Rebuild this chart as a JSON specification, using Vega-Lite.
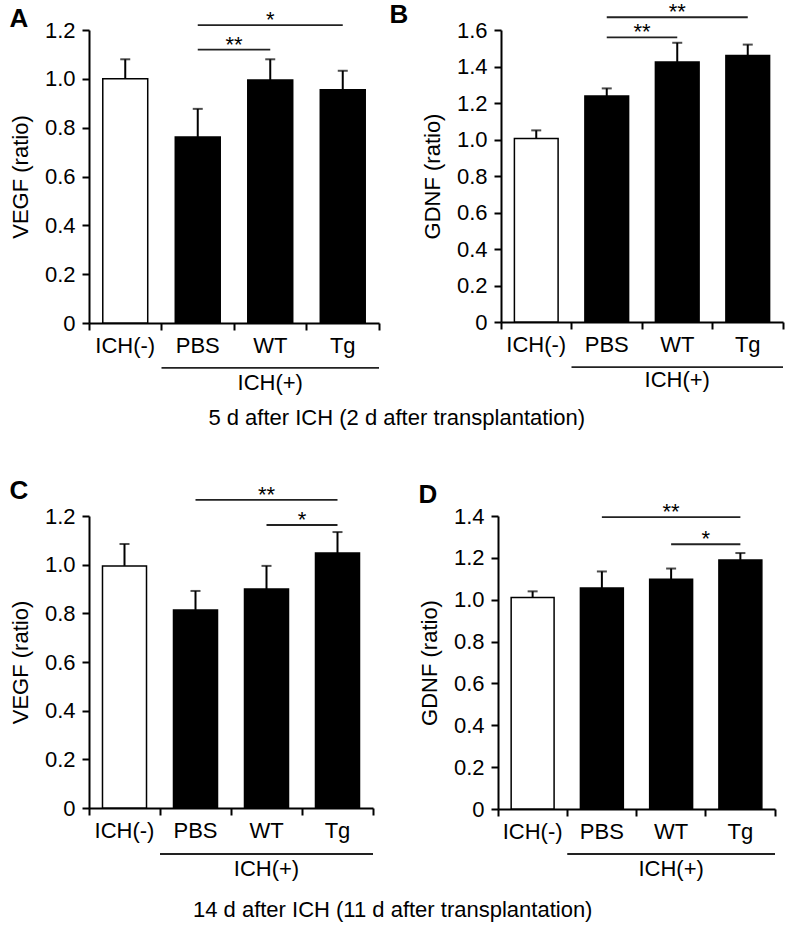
{
  "$schema": "https://vega.github.io/schema/vega-lite/v6.json",
  "background": "white",
  "padding": {"left": 9, "top": 1, "right": 3, "bottom": 4},
  "spacing": 47,
  "config": {
    "font": "Liberation Sans",
    "view": {"stroke": null},
    "axis": {
      "domainColor": "black", "domainWidth": 2, "tickColor": "black", "tickWidth": 2, "tickSize": 7,
      "labelColor": "black", "labelFontSize": 22, "titleFontSize": 22, "titleFontWeight": "normal",
      "titleColor": "black", "grid": false
    },
    "title": {"color": "black"}
  },
  "datasets": {
    "bars": [
      {"panel": "A", "g": "ICH(-)", "mean": 1.0, "top": 1.08},
      {"panel": "A", "g": "PBS", "mean": 0.762, "top": 0.877},
      {"panel": "A", "g": "WT", "mean": 0.995, "top": 1.08},
      {"panel": "A", "g": "Tg", "mean": 0.955, "top": 1.033},
      {"panel": "B", "g": "ICH(-)", "mean": 1.005, "top": 1.05},
      {"panel": "B", "g": "PBS", "mean": 1.238, "top": 1.28},
      {"panel": "B", "g": "WT", "mean": 1.425, "top": 1.53},
      {"panel": "B", "g": "Tg", "mean": 1.46, "top": 1.52},
      {"panel": "C", "g": "ICH(-)", "mean": 0.995, "top": 1.085},
      {"panel": "C", "g": "PBS", "mean": 0.814, "top": 0.892},
      {"panel": "C", "g": "WT", "mean": 0.9, "top": 0.995},
      {"panel": "C", "g": "Tg", "mean": 1.048, "top": 1.134},
      {"panel": "D", "g": "ICH(-)", "mean": 1.01, "top": 1.04},
      {"panel": "D", "g": "PBS", "mean": 1.056, "top": 1.135},
      {"panel": "D", "g": "WT", "mean": 1.098, "top": 1.149},
      {"panel": "D", "g": "Tg", "mean": 1.19, "top": 1.223}
    ],
    "sig": [
      {"panel": "A", "from": "PBS", "to": "WT", "y": 1.12, "label": "**", "at": "PBS", "pos": "end"},
      {"panel": "A", "from": "PBS", "to": "Tg", "y": 1.22, "label": "*", "at": "WT", "pos": "mid"},
      {"panel": "B", "from": "PBS", "to": "WT", "y": 1.56, "label": "**", "at": "PBS", "pos": "end"},
      {"panel": "B", "from": "PBS", "to": "Tg", "y": 1.67, "label": "**", "at": "WT", "pos": "mid"},
      {"panel": "C", "from": "PBS", "to": "Tg", "y": 1.266, "label": "**", "at": "WT", "pos": "mid"},
      {"panel": "C", "from": "WT", "to": "Tg", "y": 1.163, "label": "*", "at": "WT", "pos": "end"},
      {"panel": "D", "from": "PBS", "to": "Tg", "y": 1.395, "label": "**", "at": "WT", "pos": "mid"},
      {"panel": "D", "from": "WT", "to": "Tg", "y": 1.265, "label": "*", "at": "WT", "pos": "end"}
    ],
    "grp": [
      {"panel": "A", "from": "PBS", "to": "Tg", "at": "WT", "y": -0.184, "ty": -0.246, "label": "ICH(+)"},
      {"panel": "B", "from": "PBS", "to": "Tg", "at": "WT", "y": -0.247, "ty": -0.318, "label": "ICH(+)"},
      {"panel": "C", "from": "PBS", "to": "Tg", "at": "WT", "y": -0.189, "ty": -0.251, "label": "ICH(+)"},
      {"panel": "D", "from": "PBS", "to": "Tg", "at": "WT", "y": -0.215, "ty": -0.287, "label": "ICH(+)"}
    ]
  },
  "vconcat": [
    {
      "title": {"text": "5 d after ICH (2 d after transplantation)", "orient": "bottom", "anchor": "middle", "fontSize": 22, "fontWeight": "normal", "offset": 14},
      "spacing": 9,
      "hconcat": [
        {
          "width": 290, "height": 293,
          "title": {"text": "A", "anchor": "start", "fontSize": 26, "fontWeight": "bold", "offset": -23},
          "layer": [
            {"data": {"name": "bars"}, "transform": [{"filter": "datum.panel == 'A'"}],
             "mark": {"type": "bar", "width": {"band": 0.62}, "stroke": "black", "strokeWidth": 1.5},
             "encoding": {
               "x": {"field": "g", "type": "nominal", "scale": {"domain": ["ICH(-)", "PBS", "WT", "Tg"], "paddingInner": 0, "paddingOuter": 0},
                     "axis": {"title": null, "labelAngle": 0, "bandPosition": 1, "tickExtra": true, "labelPadding": 5}},
               "y": {"field": "mean", "type": "quantitative", "scale": {"domain": [0, 1.2], "nice": false},
                     "axis": {"title": "VEGF (ratio)", "values": [0, 0.2, 0.4, 0.6, 0.8, 1.0, 1.2], "tickCount": 20, "labelExpr": "datum.value == 0 ? '0' : format(datum.value, '.1f')", "titlePadding": 12, "labelPadding": 7}},
               "fill": {"condition": {"test": "datum.g == 'ICH(-)'", "value": "white"}, "value": "black"}
             }},
            {"data": {"name": "bars"}, "transform": [{"filter": "datum.panel == 'A'"}],
             "mark": {"type": "rule", "color": "black", "strokeWidth": 2},
             "encoding": {"x": {"field": "g", "type": "nominal"}, "y": {"field": "mean", "type": "quantitative"}, "y2": {"field": "top"}}},
            {"data": {"name": "bars"}, "transform": [{"filter": "datum.panel == 'A'"}],
             "mark": {"type": "tick", "color": "black", "size": 10, "thickness": 2, "orient": "horizontal"},
             "encoding": {"x": {"field": "g", "type": "nominal"}, "y": {"field": "top", "type": "quantitative"}}},
            {"data": {"name": "sig"}, "transform": [{"filter": "datum.panel == 'A'"}],
             "mark": {"type": "rule", "color": "#222", "strokeWidth": 1.8},
             "encoding": {"x": {"field": "from", "type": "nominal"}, "x2": {"field": "to"}, "y": {"field": "y", "type": "quantitative"}}},
            {"data": {"name": "sig"}, "transform": [{"filter": "datum.panel == 'A' && datum.pos == 'mid'"}],
             "mark": {"type": "text", "fontSize": 22, "baseline": "alphabetic", "dy": 2, "color": "black"},
             "encoding": {"x": {"field": "at", "type": "nominal"}, "y": {"field": "y", "type": "quantitative"}, "text": {"field": "label"}}},
            {"data": {"name": "sig"}, "transform": [{"filter": "datum.panel == 'A' && datum.pos == 'end'"}],
             "mark": {"type": "text", "fontSize": 22, "baseline": "alphabetic", "dy": 2, "color": "black"},
             "encoding": {"x": {"field": "at", "type": "nominal", "bandPosition": 1}, "y": {"field": "y", "type": "quantitative"}, "text": {"field": "label"}}},
            {"data": {"name": "grp"}, "transform": [{"filter": "datum.panel == 'A'"}],
             "mark": {"type": "rule", "color": "#222", "strokeWidth": 1.8},
             "encoding": {"x": {"field": "from", "type": "nominal", "bandPosition": 0}, "x2": {"field": "to", "bandPosition": 1}, "y": {"field": "y", "type": "quantitative"}}},
            {"data": {"name": "grp"}, "transform": [{"filter": "datum.panel == 'A'"}],
             "mark": {"type": "text", "fontSize": 22, "baseline": "middle", "color": "black"},
             "encoding": {"x": {"field": "at", "type": "nominal"}, "y": {"field": "ty", "type": "quantitative"}, "text": {"field": "label"}}}
          ]
        },
        {
          "width": 282, "height": 292,
          "title": {"text": "B", "anchor": "start", "fontSize": 26, "fontWeight": "bold", "offset": -27, "dx": -32},
          "layer": [
            {"data": {"name": "bars"}, "transform": [{"filter": "datum.panel == 'B'"}],
             "mark": {"type": "bar", "width": {"band": 0.62}, "stroke": "black", "strokeWidth": 1.5},
             "encoding": {
               "x": {"field": "g", "type": "nominal", "scale": {"domain": ["ICH(-)", "PBS", "WT", "Tg"], "paddingInner": 0, "paddingOuter": 0},
                     "axis": {"title": null, "labelAngle": 0, "bandPosition": 1, "tickExtra": true, "labelPadding": 5}},
               "y": {"field": "mean", "type": "quantitative", "scale": {"domain": [0, 1.6], "nice": false},
                     "axis": {"title": "GDNF (ratio)", "values": [0, 0.2, 0.4, 0.6, 0.8, 1.0, 1.2, 1.4, 1.6], "tickCount": 20, "labelExpr": "datum.value == 0 ? '0' : format(datum.value, '.1f')", "titlePadding": 12, "labelPadding": 7}},
               "fill": {"condition": {"test": "datum.g == 'ICH(-)'", "value": "white"}, "value": "black"}
             }},
            {"data": {"name": "bars"}, "transform": [{"filter": "datum.panel == 'B'"}],
             "mark": {"type": "rule", "color": "black", "strokeWidth": 2},
             "encoding": {"x": {"field": "g", "type": "nominal"}, "y": {"field": "mean", "type": "quantitative"}, "y2": {"field": "top"}}},
            {"data": {"name": "bars"}, "transform": [{"filter": "datum.panel == 'B'"}],
             "mark": {"type": "tick", "color": "black", "size": 10, "thickness": 2, "orient": "horizontal"},
             "encoding": {"x": {"field": "g", "type": "nominal"}, "y": {"field": "top", "type": "quantitative"}}},
            {"data": {"name": "sig"}, "transform": [{"filter": "datum.panel == 'B'"}],
             "mark": {"type": "rule", "color": "#222", "strokeWidth": 1.8},
             "encoding": {"x": {"field": "from", "type": "nominal"}, "x2": {"field": "to"}, "y": {"field": "y", "type": "quantitative"}}},
            {"data": {"name": "sig"}, "transform": [{"filter": "datum.panel == 'B' && datum.pos == 'mid'"}],
             "mark": {"type": "text", "fontSize": 22, "baseline": "alphabetic", "dy": 2, "color": "black"},
             "encoding": {"x": {"field": "at", "type": "nominal"}, "y": {"field": "y", "type": "quantitative"}, "text": {"field": "label"}}},
            {"data": {"name": "sig"}, "transform": [{"filter": "datum.panel == 'B' && datum.pos == 'end'"}],
             "mark": {"type": "text", "fontSize": 22, "baseline": "alphabetic", "dy": 2, "color": "black"},
             "encoding": {"x": {"field": "at", "type": "nominal", "bandPosition": 1}, "y": {"field": "y", "type": "quantitative"}, "text": {"field": "label"}}},
            {"data": {"name": "grp"}, "transform": [{"filter": "datum.panel == 'B'"}],
             "mark": {"type": "rule", "color": "#222", "strokeWidth": 1.8},
             "encoding": {"x": {"field": "from", "type": "nominal", "bandPosition": 0}, "x2": {"field": "to", "bandPosition": 1}, "y": {"field": "y", "type": "quantitative"}}},
            {"data": {"name": "grp"}, "transform": [{"filter": "datum.panel == 'B'"}],
             "mark": {"type": "text", "fontSize": 22, "baseline": "middle", "color": "black"},
             "encoding": {"x": {"field": "at", "type": "nominal"}, "y": {"field": "ty", "type": "quantitative"}, "text": {"field": "label"}}}
          ]
        }
      ]
    },
    {
      "title": {"text": "14 d after ICH (11 d after transplantation)", "orient": "bottom", "anchor": "middle", "fontSize": 22, "fontWeight": "normal", "offset": 20},
      "spacing": 44,
      "columns": 2,
      "align": "none",
      "concat": [
        {
          "width": 284, "height": 292,
          "title": {"text": "C", "anchor": "start", "fontSize": 26, "fontWeight": "bold", "offset": -20},
          "layer": [
            {"data": {"name": "bars"}, "transform": [{"filter": "datum.panel == 'C'"}],
             "mark": {"type": "bar", "width": {"band": 0.62}, "stroke": "black", "strokeWidth": 1.5},
             "encoding": {
               "x": {"field": "g", "type": "nominal", "scale": {"domain": ["ICH(-)", "PBS", "WT", "Tg"], "paddingInner": 0, "paddingOuter": 0},
                     "axis": {"title": null, "labelAngle": 0, "bandPosition": 1, "tickExtra": true, "labelPadding": 5}},
               "y": {"field": "mean", "type": "quantitative", "scale": {"domain": [0, 1.2], "nice": false},
                     "axis": {"title": "VEGF (ratio)", "values": [0, 0.2, 0.4, 0.6, 0.8, 1.0, 1.2], "tickCount": 20, "labelExpr": "datum.value == 0 ? '0' : format(datum.value, '.1f')", "titlePadding": 12, "labelPadding": 7}},
               "fill": {"condition": {"test": "datum.g == 'ICH(-)'", "value": "white"}, "value": "black"}
             }},
            {"data": {"name": "bars"}, "transform": [{"filter": "datum.panel == 'C'"}],
             "mark": {"type": "rule", "color": "black", "strokeWidth": 2},
             "encoding": {"x": {"field": "g", "type": "nominal"}, "y": {"field": "mean", "type": "quantitative"}, "y2": {"field": "top"}}},
            {"data": {"name": "bars"}, "transform": [{"filter": "datum.panel == 'C'"}],
             "mark": {"type": "tick", "color": "black", "size": 10, "thickness": 2, "orient": "horizontal"},
             "encoding": {"x": {"field": "g", "type": "nominal"}, "y": {"field": "top", "type": "quantitative"}}},
            {"data": {"name": "sig"}, "transform": [{"filter": "datum.panel == 'C'"}],
             "mark": {"type": "rule", "color": "#222", "strokeWidth": 1.8},
             "encoding": {"x": {"field": "from", "type": "nominal"}, "x2": {"field": "to"}, "y": {"field": "y", "type": "quantitative"}}},
            {"data": {"name": "sig"}, "transform": [{"filter": "datum.panel == 'C' && datum.pos == 'mid'"}],
             "mark": {"type": "text", "fontSize": 22, "baseline": "alphabetic", "dy": 2, "color": "black"},
             "encoding": {"x": {"field": "at", "type": "nominal"}, "y": {"field": "y", "type": "quantitative"}, "text": {"field": "label"}}},
            {"data": {"name": "sig"}, "transform": [{"filter": "datum.panel == 'C' && datum.pos == 'end'"}],
             "mark": {"type": "text", "fontSize": 22, "baseline": "alphabetic", "dy": 2, "color": "black"},
             "encoding": {"x": {"field": "at", "type": "nominal", "bandPosition": 1}, "y": {"field": "y", "type": "quantitative"}, "text": {"field": "label"}}},
            {"data": {"name": "grp"}, "transform": [{"filter": "datum.panel == 'C'"}],
             "mark": {"type": "rule", "color": "#222", "strokeWidth": 1.8},
             "encoding": {"x": {"field": "from", "type": "nominal", "bandPosition": 0}, "x2": {"field": "to", "bandPosition": 1}, "y": {"field": "y", "type": "quantitative"}}},
            {"data": {"name": "grp"}, "transform": [{"filter": "datum.panel == 'C'"}],
             "mark": {"type": "text", "fontSize": 22, "baseline": "middle", "color": "black"},
             "encoding": {"x": {"field": "at", "type": "nominal"}, "y": {"field": "ty", "type": "quantitative"}, "text": {"field": "label"}}}
          ]
        },
        {
          "width": 277, "height": 293,
          "title": {"text": "D", "anchor": "start", "fontSize": 26, "fontWeight": "bold", "offset": -7},
          "layer": [
            {"data": {"name": "bars"}, "transform": [{"filter": "datum.panel == 'D'"}],
             "mark": {"type": "bar", "width": {"band": 0.62}, "stroke": "black", "strokeWidth": 1.5},
             "encoding": {
               "x": {"field": "g", "type": "nominal", "scale": {"domain": ["ICH(-)", "PBS", "WT", "Tg"], "paddingInner": 0, "paddingOuter": 0},
                     "axis": {"title": null, "labelAngle": 0, "bandPosition": 1, "tickExtra": true, "labelPadding": 5}},
               "y": {"field": "mean", "type": "quantitative", "scale": {"domain": [0, 1.4], "nice": false},
                     "axis": {"title": "GDNF (ratio)", "values": [0, 0.2, 0.4, 0.6, 0.8, 1.0, 1.2, 1.4], "tickCount": 20, "labelExpr": "datum.value == 0 ? '0' : format(datum.value, '.1f')", "titlePadding": 12, "labelPadding": 7}},
               "fill": {"condition": {"test": "datum.g == 'ICH(-)'", "value": "white"}, "value": "black"}
             }},
            {"data": {"name": "bars"}, "transform": [{"filter": "datum.panel == 'D'"}],
             "mark": {"type": "rule", "color": "black", "strokeWidth": 2},
             "encoding": {"x": {"field": "g", "type": "nominal"}, "y": {"field": "mean", "type": "quantitative"}, "y2": {"field": "top"}}},
            {"data": {"name": "bars"}, "transform": [{"filter": "datum.panel == 'D'"}],
             "mark": {"type": "tick", "color": "black", "size": 10, "thickness": 2, "orient": "horizontal"},
             "encoding": {"x": {"field": "g", "type": "nominal"}, "y": {"field": "top", "type": "quantitative"}}},
            {"data": {"name": "sig"}, "transform": [{"filter": "datum.panel == 'D'"}],
             "mark": {"type": "rule", "color": "#222", "strokeWidth": 1.8},
             "encoding": {"x": {"field": "from", "type": "nominal"}, "x2": {"field": "to"}, "y": {"field": "y", "type": "quantitative"}}},
            {"data": {"name": "sig"}, "transform": [{"filter": "datum.panel == 'D' && datum.pos == 'mid'"}],
             "mark": {"type": "text", "fontSize": 22, "baseline": "alphabetic", "dy": 2, "color": "black"},
             "encoding": {"x": {"field": "at", "type": "nominal"}, "y": {"field": "y", "type": "quantitative"}, "text": {"field": "label"}}},
            {"data": {"name": "sig"}, "transform": [{"filter": "datum.panel == 'D' && datum.pos == 'end'"}],
             "mark": {"type": "text", "fontSize": 22, "baseline": "alphabetic", "dy": 2, "color": "black"},
             "encoding": {"x": {"field": "at", "type": "nominal", "bandPosition": 1}, "y": {"field": "y", "type": "quantitative"}, "text": {"field": "label"}}},
            {"data": {"name": "grp"}, "transform": [{"filter": "datum.panel == 'D'"}],
             "mark": {"type": "rule", "color": "#222", "strokeWidth": 1.8},
             "encoding": {"x": {"field": "from", "type": "nominal", "bandPosition": 0}, "x2": {"field": "to", "bandPosition": 1}, "y": {"field": "y", "type": "quantitative"}}},
            {"data": {"name": "grp"}, "transform": [{"filter": "datum.panel == 'D'"}],
             "mark": {"type": "text", "fontSize": 22, "baseline": "middle", "color": "black"},
             "encoding": {"x": {"field": "at", "type": "nominal"}, "y": {"field": "ty", "type": "quantitative"}, "text": {"field": "label"}}}
          ]
        }
      ]
    }
  ]
}
